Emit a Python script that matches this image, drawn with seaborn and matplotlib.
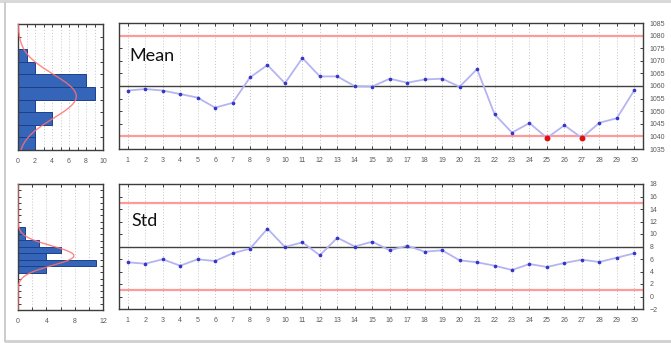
import numpy as np
import pandas as pd
import seaborn as sns
import matplotlib.pyplot as plt
from matplotlib.patches import Rectangle
from matplotlib.lines import Line2D
from matplotlib.ticker import MultipleLocator

# Subgroup statistics for 30 samples
samples = list(range(1, 31))
mean_values = [1058.2, 1058.8, 1058.2, 1056.8, 1055.4, 1051.4, 1053.3, 1063.4, 1068.3, 1061.1,
               1071.1, 1063.8, 1063.8, 1059.9, 1059.8, 1062.9, 1061.3, 1062.6, 1062.9, 1059.7,
               1066.7, 1048.8, 1041.5, 1045.3, 1039.4, 1044.4, 1039.4, 1045.4, 1047.2, 1058.3]
std_values = [5.47, 5.25, 5.95, 4.93, 5.95, 5.68, 6.91, 7.65, 10.85, 7.92,
              8.67, 6.59, 9.41, 8.00, 8.77, 7.39, 8.13, 7.17, 7.39, 5.79,
              5.47, 4.93, 4.24, 5.20, 4.72, 5.36, 5.89, 5.52, 6.21, 6.91]

# Control limits (lower, center, upper)
mean_limits = [1040, 1060, 1080]
std_limits = [1, 8, 15]

chart_titles = ["Mean", "Std"]

sns.set_theme(style="white")
plt.rcParams['font.family'] = ['Liberation Sans', 'DejaVu Sans']

W, H = 671, 343
fig = plt.figure(figsize=(W / 100, H / 100), dpi=100)
fig.patch.set_facecolor("white")

# light panel frame: band on top, thin rules on the left and bottom
fig.patches.append(Rectangle((0, 1 - 3 / H), 1, 3 / H, transform=fig.transFigure,
                             facecolor="#d9d9d9", edgecolor="none", zorder=0))
fig.lines.append(Line2D([4.5 / W, 4.5 / W], [2.5 / H, 1 - 3 / H], transform=fig.transFigure,
                        color="#c4c4c4", lw=1.2))
fig.lines.append(Line2D([4.5 / W, 1], [2.5 / H, 2.5 / H], transform=fig.transFigure,
                        color="#cfcfcf", lw=2.0))


def add_px_axes(left, top, right, bottom):
    return fig.add_axes([left / W, 1 - bottom / H, (right - left) / W, (bottom - top) / H])


SPINE = "#3c3c3c"
LABEL = "#5a5a5a"
GRID = "#c4c4c4"
BAR = "#3565b8"
BAR_EDGE = "#1e3f8a"
CURVE = "#ff7070"
LIMIT = "#ff9a9a"
LINE = "#b4b4f2"
MARK = "#3535c8"
OUT = "#e01010"


def style_axes(ax):
    for s in ax.spines.values():
        s.set_color(SPINE)
        s.set_linewidth(1.0)
    ax.tick_params(which="both", direction="in", color=SPINE, width=0.7,
                   top=True, bottom=True, left=True, right=True,
                   labelsize=5, labelcolor=LABEL)
    ax.tick_params(which="major", length=2.5)
    ax.tick_params(which="minor", length=2.5)
    ax.set_xlabel("")
    ax.set_ylabel("")


def draw_hist(ax, values, ylim, bins, binrange, xmax, xmajor, xminor, ymajor):
    data = pd.DataFrame({"value": values})
    sns.histplot(data=data, y="value", bins=bins, binrange=binrange, ax=ax,
                 color=BAR, edgecolor=BAR_EDGE, linewidth=0.7, alpha=1, zorder=2)
    binw = (binrange[1] - binrange[0]) / bins
    mu, sd = np.mean(values), np.std(values, ddof=1)
    grid_y = np.linspace(ylim[0], ylim[1], 300)
    dens = len(values) * binw * np.exp(-0.5 * ((grid_y - mu) / sd) ** 2) / (sd * np.sqrt(2 * np.pi))
    ax.plot(dens, grid_y, color=CURVE, lw=1.0, alpha=0.85, zorder=3)
    ax.set_xlim(0, xmax)
    ax.set_ylim(*ylim)
    ax.xaxis.set_major_locator(MultipleLocator(xmajor))
    ax.xaxis.set_minor_locator(MultipleLocator(xminor))
    ax.yaxis.set_major_locator(MultipleLocator(ymajor))
    ax.grid(True, which="both", axis="x", color=GRID, linestyle=(0, (1, 2)), linewidth=0.7)
    ax.set_axisbelow(True)
    style_axes(ax)
    ax.tick_params(axis="x", pad=6)
    ax.tick_params(labelleft=False)


def draw_control(ax, values, limits, ylim, ystep, title, title_pos):
    lo, center, hi = limits
    df = pd.DataFrame({"sample": samples, "value": values})
    df["out"] = (df["value"] < lo) | (df["value"] > hi)
    for y, c, lw in [(lo, LIMIT, 1.6), (hi, LIMIT, 1.6), (center, "#404040", 1.0)]:
        ax.axhline(y, color=c, lw=lw, zorder=2)
    sns.lineplot(data=df, x="sample", y="value", ax=ax, color=LINE, lw=1.3, zorder=3)
    sns.scatterplot(data=df[~df["out"]], x="sample", y="value", ax=ax, color=MARK,
                    s=7, linewidth=0, zorder=4)
    sns.scatterplot(data=df[df["out"]], x="sample", y="value", ax=ax, color=OUT,
                    s=18, linewidth=0, zorder=5)
    ax.set_xlim(0.5, 30.5)
    ax.set_ylim(*ylim)
    ax.set_xticks(samples)
    ax.yaxis.set_major_locator(MultipleLocator(ystep))
    ax.grid(True, axis="x", color=GRID, linestyle=(0, (1, 2)), linewidth=0.7)
    ax.set_axisbelow(True)
    style_axes(ax)
    ax.tick_params(labelleft=False, labelright=True)
    ax.tick_params(axis="x", pad=6)
    ax.tick_params(axis="y", pad=5)
    ax.text(title_pos[0], title_pos[1], title, transform=ax.transAxes, fontsize=13,
            family=["Lato", "DejaVu Sans"], color="#111111", va="center", ha="left")


# Mean row
ax_h1 = add_px_axes(18, 24, 103, 150)
draw_hist(ax_h1, mean_values, (1035, 1085), 10, (1035, 1085), 10, 2, 1, 5)
ax_c1 = add_px_axes(119, 23, 643, 149)
draw_control(ax_c1, mean_values, mean_limits, (1035, 1085), 5, chart_titles[0], (0.019, 0.735))

# Std row
ax_h2 = add_px_axes(18, 184, 103, 310)
draw_hist(ax_h2, std_values, (-2, 18), 7, (3.92, 11.12), 12, 4, 2, 1)
ax_c2 = add_px_axes(119, 184, 643, 309)
draw_control(ax_c2, std_values, std_limits, (-2, 18), 2, chart_titles[1], (0.023, 0.70))

fig.savefig("out.png", dpi=100, facecolor="white")
